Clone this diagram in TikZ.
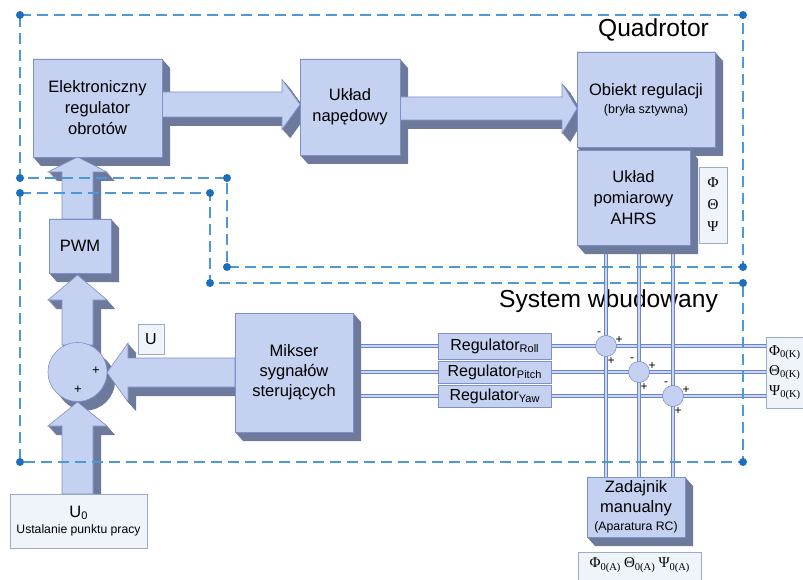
\documentclass[tikz,border=0pt]{standalone}
\usepackage{fontspec}
\setmainfont{Liberation Sans}
\newfontfamily\grk{Liberation Serif}
\usetikzlibrary{calc}

\definecolor{facec}{HTML}{C5D1F1}
\definecolor{edgec}{HTML}{7E90C8}
\definecolor{shadec}{HTML}{6E7A9C}
\definecolor{labelc}{HTML}{EEF4FA}
\definecolor{labeledge}{HTML}{9AABC6}
\definecolor{dashc}{HTML}{4F97D6}
\definecolor{dotc}{HTML}{1E6EBE}
\definecolor{linec}{HTML}{6A84C6}
\definecolor{linefill}{HTML}{CAD6F4}

\pgfdeclarelayer{txt}
\pgfdeclarelayer{lines}
\pgfdeclarelayer{shade}
\pgfdeclarelayer{arrows}
\pgfdeclarelayer{top}
\pgfsetlayers{txt,lines,shade,arrows,main,top}

\tikzset{
  facebox/.style={draw=edgec, fill=facec, line width=0.6pt, inner sep=0pt,
    align=center, font=\fontsize{16.5}{21}\selectfont},
  flatbox/.style={draw=edgec, fill=facec, line width=0.6pt, inner sep=0pt,
    font=\fontsize{16}{16}\selectfont},
  labelbox/.style={draw=labeledge, fill=labelc, line width=0.6pt, inner sep=0pt},
  sigline/.style={draw=linec, line width=0.7pt, double=linefill, double distance=2.6pt},
  frame/.style={draw=dashc, line width=1.2pt, dash pattern=on 11pt off 6pt},
  corner/.style={circle, fill=dotc, inner sep=0pt, minimum size=8pt},
  sumnode/.style={circle, draw=edgec, fill=facec, line width=0.6pt,
    minimum size=21pt, inner sep=0pt},
  signtext/.style={font=\fontsize{12}{12}\selectfont, inner sep=0pt},
  title/.style={font=\fontsize{24.6}{28}\selectfont, inner sep=0pt, anchor=base},
}

% extruded side of a solid block (front face x1,y1 -- x2,y2)
\newcommand\blockshade[4]{%
  \begin{pgfonlayer}{shade}
  \fill[shadec] (#1,#2) -- (#3,#2) -- ({#3+8},{#2+9}) -- ({#3+8},{#4+9})
     -- ({#1+8},{#4+9}) -- (#1,#4) -- cycle;
  \end{pgfonlayer}}
% solid block: name, x1, y1, x2, y2, text
\newcommand\solidblock[6]{%
  \blockshade{#2}{#3}{#4}{#5}
  \node[facebox, minimum width={(#4-#2)*1pt}, minimum height={(#5-#3)*1pt}]
    (#1) at ({(#2+#4)/2},{(#3+#5)/2}) {#6};}
% wide block arrow with its extrusion
\newcommand\bigarrow[1]{%
  \begin{pgfonlayer}{arrows}
  \foreach \s in {0.5,1,...,9}{\fill[shadec, shift={({\s*0.89},\s)}] #1;}
  \fill[facec, draw=edgec, line width=0.6pt] #1;
  \end{pgfonlayer}}
\newcommand\lowsub[1]{\raisebox{-2.5pt}{\fontsize{11}{11}\selectfont #1}}
\newcommand\grsub[1]{\raisebox{-2.5pt}{\fontsize{10.5}{11}\selectfont #1}}

\begin{document}
\begin{tikzpicture}[x=1pt, y=-1pt]
\useasboundingbox (0,0) rectangle (803,580);

% titles
\begin{pgfonlayer}{txt}
\node[title] (tq) at (653.5,37) {Quadrotor};
\node[title] (ts) at (608.5,307) {System wbudowany};
\end{pgfonlayer}

% solid blocks
\solidblock{esc}{33}{59}{162}{157}{Elektroniczny\\regulator\\obrotów}
\solidblock{drv}{300}{59}{400}{155}{Układ\\napędowy}
\solidblock{obj}{577}{52}{715}{147}{Obiekt regulacji\\[-3pt]{\fontsize{12.5}{14}\selectfont (bryła sztywna)}}
\solidblock{ahrs}{577}{150}{690}{245}{Układ\\pomiarowy\\AHRS}
\solidblock{pwm}{49}{219}{111}{273}{PWM}
\solidblock{mix}{235}{313}{353}{432}{Mikser\\[-1pt]sygnałów\\[-1pt]sterujących}
\solidblock{rc}{587}{477}{685}{537}{Zadajnik\\[-1pt]manualny\\[-3pt]{\fontsize{12.3}{14}\selectfont (Aparatura RC)}}

% summing junction for the throttle
\begin{pgfonlayer}{shade}
\fill[shadec] (85.5,381) circle (29.5);
\end{pgfonlayer}
\node[circle, draw=edgec, fill=facec, line width=0.6pt, minimum size=59pt,
  inner sep=0pt] (sum) at (77.5,372) {};
\node[signtext, font=\fontsize{13}{13}\selectfont] (sp1) at (96,371) {+};
\node[signtext, font=\fontsize{13}{13}\selectfont] (sp2) at (78,390) {+};

% block arrows
\bigarrow{(162,92) -- (282,92) -- (282,79.5) -- (300,104.5) -- (282,129.5) -- (282,117) -- (162,117) -- cycle}
\bigarrow{(400,97) -- (562,97) -- (562,83.5) -- (577,108.5) -- (562,133.5) -- (562,120) -- (400,120) -- cycle}
\bigarrow{(62,219) -- (62,172) -- (48,172) -- (77.5,157) -- (107,172) -- (93,172) -- (93,219) -- cycle}
\bigarrow{(62,345) -- (62,300) -- (48,300) -- (77.5,275) -- (107,300) -- (93,300) -- (93,345) -- cycle}
\bigarrow{(62,494) -- (62,426) -- (48,426) -- (77.5,402) -- (107,426) -- (93,426) -- (93,494) -- cycle}
\bigarrow{(235,358) -- (128,358) -- (128,343) -- (107,372.5) -- (128,402) -- (128,387) -- (235,387) -- cycle}

% controllers
\node[flatbox, minimum width=113pt, minimum height=26pt] (rr) at (494.5,346) {Regulator\lowsub{Roll}};
\node[flatbox, minimum width=113pt, minimum height=22pt] (rp) at (494.5,372) {Regulator\lowsub{Pitch}};
\node[flatbox, minimum width=113pt, minimum height=22pt] (ry) at (494.5,396) {Regulator\lowsub{Yaw}};

% error junctions
\node[sumnode] (sr) at (606,346) {};
\node[sumnode] (sq) at (639,372) {};
\node[sumnode] (sy) at (673,396) {};
\foreach \n in {sr,sq,sy}{
  \node[signtext] at ($(\n)+(-7,-12)$) {-};
  \node[signtext] at ($(\n)+(13,-6)$) {+};
  \node[signtext] at ($(\n)+(5,15)$) {+};
}

% label boxes
\node[labelbox, minimum width=26pt, minimum height=30pt,
  font=\fontsize{16}{16}\selectfont] (ul) at (151,339) {U};
\node[labelbox, minimum width=137pt, minimum height=54pt, align=center] (u0) at (78.5,521)
  {{\fontsize{16.5}{18}\selectfont U\lowsub{0}}\\[4pt]{\fontsize{12.2}{14}\selectfont Ustalanie punktu pracy}};
\node[labelbox, minimum width=28pt, minimum height=76pt, align=center,
  font=\grk\fontsize{15}{22}\selectfont] (ang) at (713,205) {Φ\\Θ\\Ψ};
\node[labelbox, minimum width=64pt, minimum height=71pt] (ref) at (798,372.5) {};
\node[anchor=west, inner sep=0pt, align=left, font=\grk\fontsize{15}{20}\selectfont]
  (reft) at (769,372.5) {Φ\grsub{0(K)}\\Θ\grsub{0(K)}\\Ψ\grsub{0(K)}};
\node[labelbox, minimum width=123pt, minimum height=36pt] (man) at (639.5,570) {};
\node[inner sep=0pt, font=\grk\fontsize{15}{18}\selectfont] (mant) at (639.5,565)
  {Φ\grsub{0(A)} Θ\grsub{0(A)} Ψ\grsub{0(A)}};

% signal lines
\begin{pgfonlayer}{lines}
\foreach \r in {rr,rp,ry}{
  \draw[sigline] (mix.east |- \r.west) -- (\r.west);
  \draw[sigline] (\r.east) -- (\r.east -| ref.west);
}
\foreach \n in {sr,sq,sy}{
  \draw[sigline] (\n |- ahrs.south) -- (\n |- rc.north);
}
\end{pgfonlayer}

% subsystem frames
\begin{pgfonlayer}{top}
\draw[frame] (20,15) coordinate (q1) -- (743,15) coordinate (q2) -- (743,267) coordinate (q3)
  -- (227,267) coordinate (q4) -- (227,178) coordinate (q5) -- (20,178) coordinate (q6) -- cycle;
\draw[frame] (20,193) coordinate (w1) -- (210,193) coordinate (w2) -- (210,283) coordinate (w3)
  -- (743,283) coordinate (w4) -- (743,462) coordinate (w5) -- (20,462) coordinate (w6) -- cycle;
\foreach \c in {q1,q2,q3,q4,q5,q6,w1,w2,w3,w4,w5,w6}{
  \node[corner] at (\c) {};
}
\end{pgfonlayer}
\end{tikzpicture}
\end{document}
